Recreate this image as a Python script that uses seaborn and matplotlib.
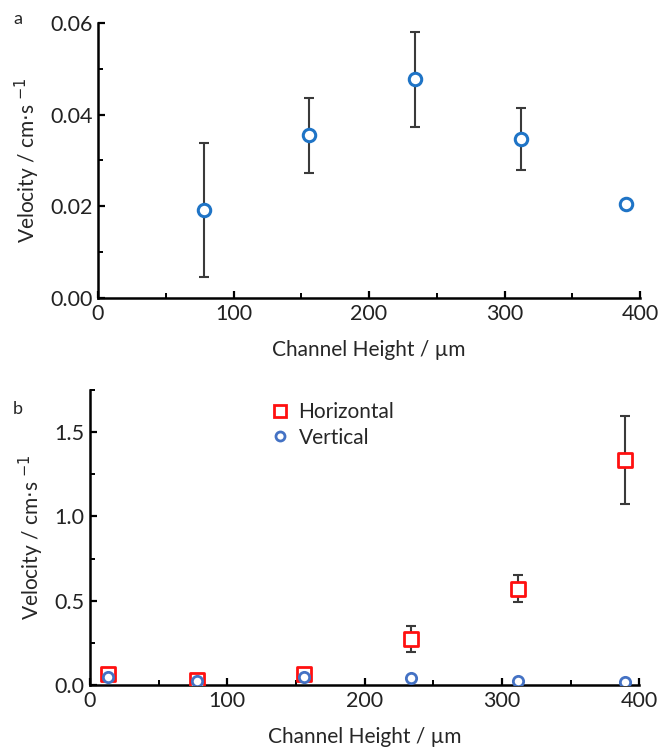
import matplotlib
matplotlib.use("Agg")
import matplotlib.pyplot as plt
import seaborn as sns
import pandas as pd
from matplotlib.ticker import MultipleLocator
from matplotlib.lines import Line2D

sns.set_theme(style="ticks")
plt.rcParams['font.family'] = ['Lato', 'DejaVu Sans']

# Panel a data
a_height = [78, 156, 234, 312, 390]
a_velocity = [0.0192, 0.0355, 0.0477, 0.0347, 0.0205]
a_error = [0.0147, 0.0082, 0.0103, 0.0068, 0.0004]

# Panel b data
b_height = [13, 78, 156, 234, 312, 390]
b_horizontal = [0.065, 0.030, 0.065, 0.274, 0.570, 1.335]
b_horizontal_err = [0.012, 0.010, 0.012, 0.077, 0.080, 0.260]
b_vertical = [0.045, 0.025, 0.050, 0.043, 0.024, 0.015]
b_vertical_err = [0.005, 0.004, 0.005, 0.004, 0.003, 0.003]

df_a = pd.DataFrame({"Channel Height": a_height, "Velocity": a_velocity})
df_h = pd.DataFrame({"Channel Height": b_height, "Velocity": b_horizontal})
df_v = pd.DataFrame({"Channel Height": b_height, "Velocity": b_vertical})

fig = plt.figure(figsize=(6.6, 7.53), dpi=100)
ax1 = fig.add_axes([0.1485, 0.6043, 0.8212, 0.3652])
ax2 = fig.add_axes([0.1364, 0.0903, 0.832, 0.3918])

err_color = "#3a3a3a"
tick_fs = 15.5
label_fs = 15
ylabel = r"Velocity / cm$\cdot$s $^{\mathsf{-1}}$"
red = "#ff1010"
blue_b = "#4472c4"

# Panel a
ax1.errorbar(a_height, a_velocity, yerr=a_error, fmt="none", ecolor=err_color,
             elinewidth=1.5, capsize=3.5, capthick=1.5, zorder=2)
sns.scatterplot(data=df_a, x="Channel Height", y="Velocity", ax=ax1, marker="o",
                s=80, facecolor="white", edgecolor="#1f74c6", linewidth=2.2, zorder=3)
ax1.set_xlim(0, 400)
ax1.set_ylim(0, 0.06)
ax1.xaxis.set_major_locator(MultipleLocator(100))
ax1.xaxis.set_minor_locator(MultipleLocator(50))
ax1.yaxis.set_major_locator(MultipleLocator(0.02))
ax1.yaxis.set_minor_locator(MultipleLocator(0.01))
ax1.yaxis.set_major_formatter(plt.FormatStrFormatter("%.2f"))
ax1.set_xlabel("Channel Height / µm", fontsize=label_fs, labelpad=12)
ax1.set_ylabel(ylabel, fontsize=label_fs, labelpad=6)

# Panel b
ax2.errorbar(b_height, b_horizontal, yerr=b_horizontal_err, fmt="none", ecolor=err_color,
             elinewidth=1.5, capsize=3.5, capthick=1.5, zorder=2)
ax2.errorbar(b_height, b_vertical, yerr=b_vertical_err, fmt="none", ecolor=err_color,
             elinewidth=1.2, capsize=2.5, capthick=1.2, zorder=2)
sns.scatterplot(data=df_h, x="Channel Height", y="Velocity", ax=ax2, marker="s",
                s=95, facecolor="white", edgecolor=red, linewidth=2.0, zorder=3)
sns.scatterplot(data=df_v, x="Channel Height", y="Velocity", ax=ax2, marker="o",
                s=55, facecolor="white", edgecolor=blue_b, linewidth=2.0, zorder=4)
ax2.set_xlim(0, 400)
ax2.set_ylim(0, 1.75)
ax2.xaxis.set_major_locator(MultipleLocator(100))
ax2.xaxis.set_minor_locator(MultipleLocator(50))
ax2.yaxis.set_major_locator(MultipleLocator(0.5))
ax2.yaxis.set_minor_locator(MultipleLocator(0.25))
ax2.yaxis.set_major_formatter(plt.FormatStrFormatter("%.1f"))
ax2.set_xlabel("Channel Height / µm", fontsize=label_fs, labelpad=12)
ax2.set_ylabel(ylabel, fontsize=label_fs, labelpad=6)

handles = [
    Line2D([], [], marker="s", ls="none", markersize=9, markerfacecolor="white",
           markeredgecolor=red, markeredgewidth=2.0, label="Horizontal"),
    Line2D([], [], marker="o", ls="none", markersize=6.5, markerfacecolor="white",
           markeredgecolor=blue_b, markeredgewidth=2.0, label="Vertical"),
]
ax2.legend(handles=handles, loc="upper left", bbox_to_anchor=(0.30, 1.0), frameon=False,
           fontsize=15, handletextpad=0.3, labelspacing=0.25, borderaxespad=0.2,
           handlelength=1.2)

for ax in (ax1, ax2):
    sns.despine(ax=ax)
    for sp in ("left", "bottom"):
        ax.spines[sp].set_linewidth(1.8)
        ax.spines[sp].set_color("black")
    ax.tick_params(which="major", direction="in", length=5, width=1.6, labelsize=tick_fs,
                   colors="black", labelcolor="#222222", pad=4)
    ax.tick_params(which="minor", direction="in", length=3.5, width=1.4, colors="black")
    ax.set_facecolor("white")

fig.text(0.02, 0.985, "a", fontsize=13, va="top")
fig.text(0.02, 0.468, "b", fontsize=13, va="top")

fig.savefig("out.png", dpi=100, facecolor="white")
